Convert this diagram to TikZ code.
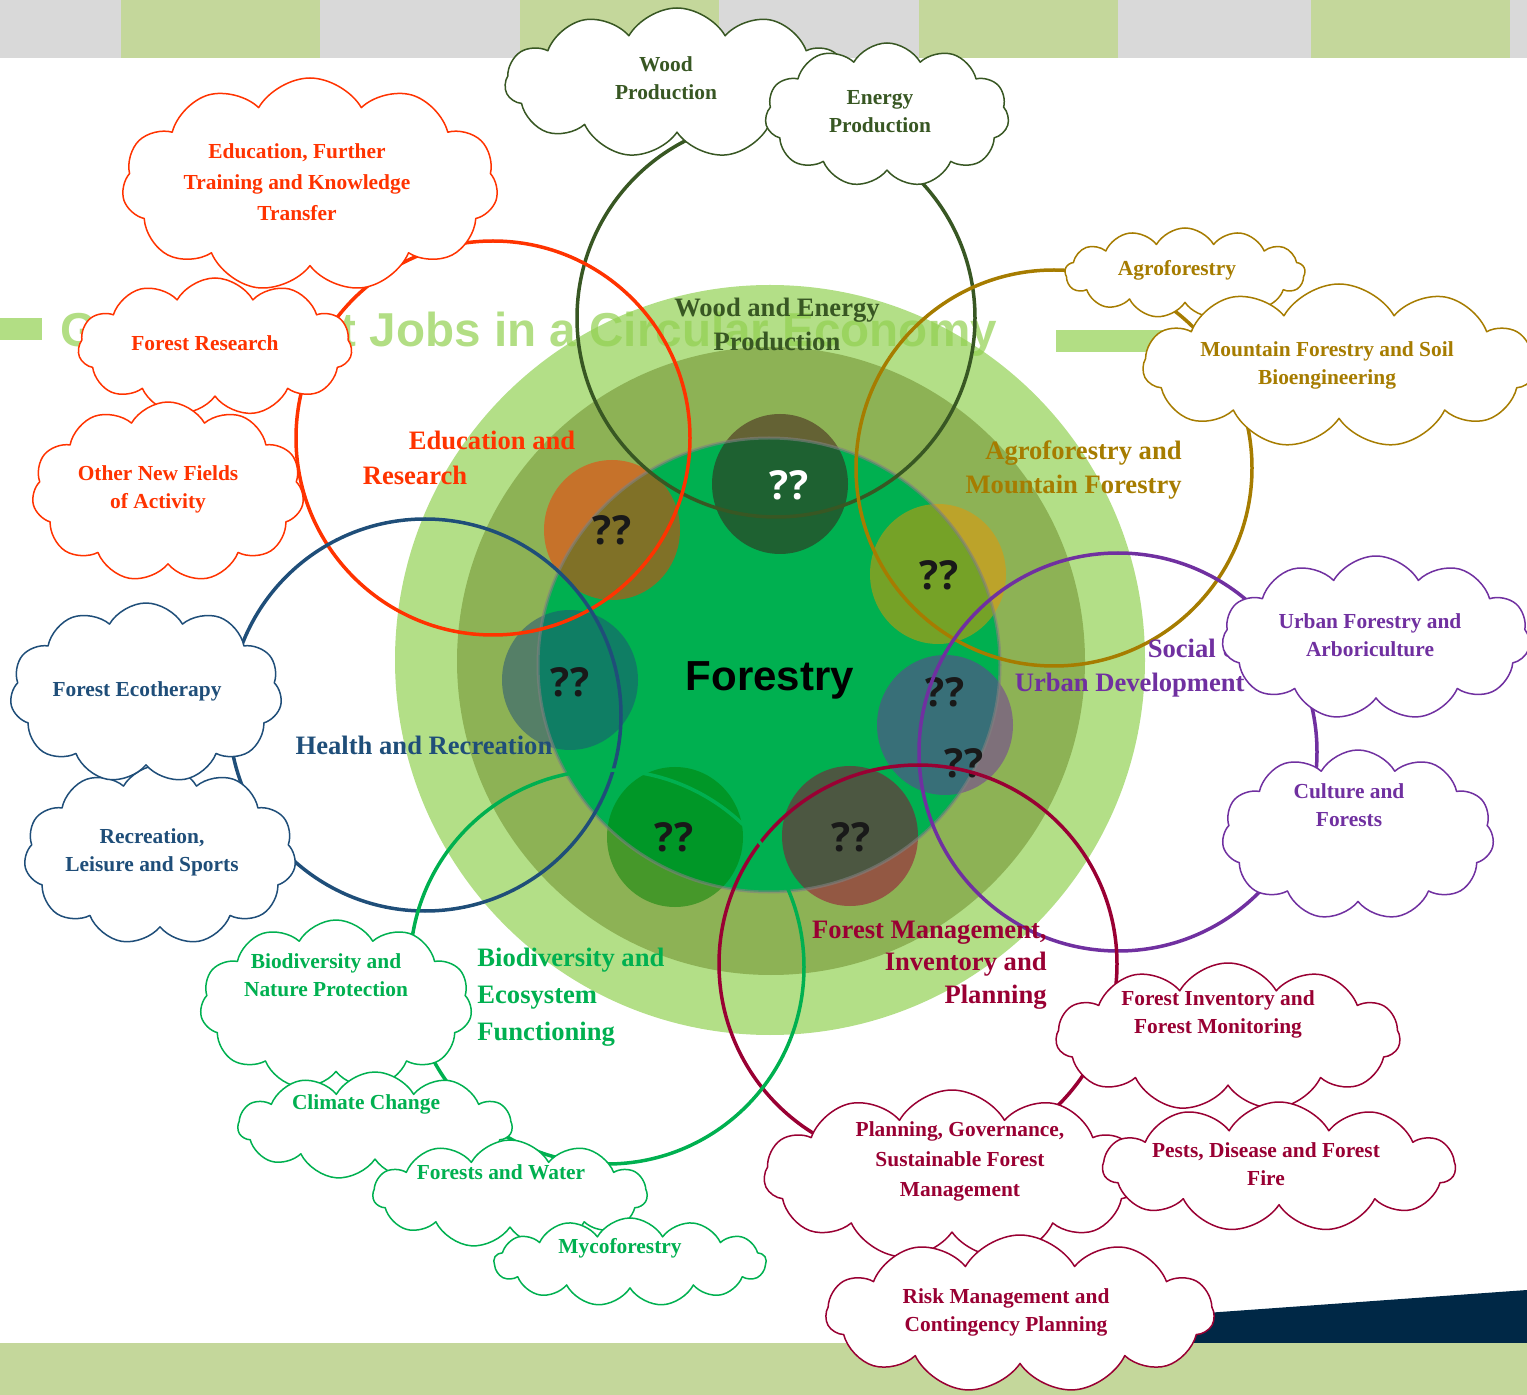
\documentclass[tikz,border=0pt]{standalone}
\usepackage{fontspec}
\setmainfont{Liberation Serif}
\setsansfont{Liberation Sans}
\newfontfamily\qfont{Open Sans}
\usetikzlibrary{shapes.symbols}

\definecolor{woodc}{RGB}{56,87,35}
\definecolor{educ}{RGB}{255,51,0}
\definecolor{agroc}{RGB}{166,124,0}
\definecolor{healthc}{RGB}{31,78,121}
\definecolor{urbanc}{RGB}{112,48,160}
\definecolor{bioc}{RGB}{0,176,80}
\definecolor{mgmtc}{RGB}{153,0,51}
\definecolor{topc}{RGB}{60,20,20}
\definecolor{goldc}{RGB}{235,150,0}
\definecolor{greenc}{RGB}{0,128,0}
\definecolor{lightg}{RGB}{179,223,135}
\definecolor{titleg}{RGB}{146,208,80}
\definecolor{oliveg}{RGB}{141,178,85}
\definecolor{bandg}{RGB}{196,215,155}
\definecolor{bandgrey}{RGB}{217,217,217}
\definecolor{navyc}{RGB}{0,40,70}

\tikzset{
  ring/.style={draw=#1, line width=1.75pt},
  puff/.style={cloud, cloud puffs=11, cloud puff arc=120, cloud ignores aspect,
    draw=#1, fill=white, line width=0.75pt, inner sep=0pt},
  ptxt/.style={text=#1, align=center, inner sep=0pt,
    font=\bfseries\fontsize{10.7}{14}\selectfont},
  lbl/.style={text=#1, inner sep=0pt, font=\bfseries\fontsize{13.3}{17}\selectfont},
  qq/.style={text=#1, inner sep=0pt, font=\qfont\bfseries\fontsize{20}{20}\selectfont},
}

\begin{document}
\begin{tikzpicture}[x=0.5pt, y=-0.5pt, line join=round, line cap=round]
    \useasboundingbox (0,0) rectangle (1527,1395);
    \clip (0,0) rectangle (1527,1395);

    % page bands
    \fill[bandgrey] (0,0) rectangle (1527,58);
    \foreach \xa in {121,520,919,1311}
        \fill[bandg] (\xa,0) rectangle ++(199,58);
    \fill[navyc] (1150,1317) -- (1527,1290) -- (1527,1343) -- (1150,1343) -- cycle;
    \fill[bandg] (0,1343) rectangle (1527,1395);

    % forestry discs
    \fill[lightg] (770,660) circle[radius=375];
    \fill[oliveg] (771,661) circle[radius=314];
    \fill[bioc] (769,665) ellipse[x radius=231, y radius=227];

    % title, half hidden
    \fill[titleg, opacity=0.7] (0,318) rectangle (42,340);
    \fill[titleg, opacity=0.7] (1056,330) rectangle (1200,352);
    \node[anchor=base west, inner sep=0pt, text=titleg, text opacity=0.7,
          font=\sffamily\bfseries\fontsize{23.8}{24}\selectfont]
          (title) at (60,347) {Green Forest Jobs in a Circular Economy};

    \foreach \cx/\cy/\cc in {780/484/topc, 612/530/educ, 938/574/goldc, 570/680/healthc,
                             945/725/urbanc, 675/837/greenc, 850/836/mgmtc}
        \fill[\cc, opacity=0.5] (\cx,\cy) ellipse[x radius=68, y radius=70];
    \draw[gray, opacity=0.6, line width=1.5pt] (769,665) ellipse[x radius=231, y radius=227];

    \node[qq=white] (qwood) at (789,485) {??};
    \node[qq=black!90] (qedu) at (612,530) {??};
    \node[qq=black!90] (qagro) at (939,575) {??};
    \node[qq=black!90] (qhealth) at (570,682) {??};
    \node[qq=black!90] (qurb1) at (945,692) {??};
    \node[qq=black!90] (qurb2) at (964,763) {??};
    \node[qq=black!90] (qbio) at (674,837) {??};
    \node[qq=black!90] (qmgmt) at (851,837) {??};

    % topic rings
    \draw[ring=woodc] (776,318) circle[radius=199];
    \draw[ring=educ] (493,438) circle[radius=197];
    \draw[ring=agroc] (1054,468) circle[radius=198];
    \draw[ring=healthc] (425,715) circle[radius=196];
    \draw[ring=urbanc] (1118,752) circle[radius=199];
    \draw[ring=mgmtc] (918,964) circle[radius=199];
    \draw[ring=bioc] (607,967) circle[radius=197];

    \node[font=\sffamily\bfseries\fontsize{21}{21}\selectfont] (forestry) at (770,680) {Forestry};

    % topic labels
    \node[lbl=woodc, align=center] (woodlbl) at (777,324) {Wood and Energy\\Production};
    \node[lbl=educ] (edulbl1) at (492,440) {Education and};
    \node[lbl=educ] (edulbl2) at (415,475) {Research};
    \node[lbl=agroc, align=right, anchor=east] (agrolbl) at (1182,470) {Agroforestry and\\Mountain Forestry};
    \node[lbl=healthc] (healthlbl) at (424,745) {Health and Recreation};
    \node[lbl=urbanc, align=right, anchor=east] (urblbl) at (1245,668) {Social \&\\Urban Development};
    \node[lbl=bioc, align=left, anchor=west, font=\bfseries\fontsize{13.3}{18.5}\selectfont]
        (biolbl) at (477,997) {Biodiversity and\\Ecosystem\\Functioning};
    \node[lbl=mgmtc, align=right, anchor=east, font=\bfseries\fontsize{13.3}{16.2}\selectfont]
        (mgmtlbl) at (1047,965) {Forest Management,\\Inventory and\\Planning};

    % clouds
    \node[puff=woodc, minimum width=172pt, minimum height=75pt] (woodcl) at (677,83) {};
    \node[ptxt=woodc] (woodtx) at (666,78) {Wood\\Production};
    \node[puff=woodc, minimum width=122pt, minimum height=72pt] (energycl) at (887,115) {};
    \node[ptxt=woodc] (energytx) at (880,112) {Energy\\Production};

    \node[puff=educ, minimum width=188pt, minimum height=107pt] (educl) at (310,185) {};
    \node[ptxt=educ, font=\bfseries\fontsize{10.7}{15.5}\selectfont] (edutx) at (297,182) {Education, Further\\Training and Knowledge\\Transfer};
    \node[puff=educ, minimum width=137pt, minimum height=69pt] (rescl) at (215,347) {};
    \node[ptxt=educ] (restx) at (205,343) {Forest Research};
    \node[puff=educ, minimum width=136pt, minimum height=90pt] (newcl) at (168,492) {};
    \node[ptxt=educ] (newtx) at (158,489) {Other New Fields\\of Activity};

    \node[puff=healthc, minimum width=136pt, minimum height=90pt] (reccl) at (160,855) {};
    \node[ptxt=healthc] (rectx) at (152,852) {Recreation,\\Leisure and Sports};
    \node[puff=healthc, minimum width=136pt, minimum height=90pt] (ecocl) at (146,693) {};
    \node[ptxt=healthc] (ecotx) at (137,691) {Forest Ecotherapy};

    \node[puff=bioc, minimum width=136pt, minimum height=85pt] (natcl) at (336,1005) {};
    \node[ptxt=bioc] (nattx) at (326,975) {Biodiversity and\\Nature Protection};
    \node[puff=bioc, minimum width=137pt, minimum height=54pt] (climcl) at (375,1126) {};
    \node[ptxt=bioc] (climtx) at (366,1104) {Climate Change};
    \node[puff=bioc, minimum width=137pt, minimum height=54pt] (watcl) at (510,1194) {};
    \node[ptxt=bioc] (wattx) at (501,1172) {Forests and Water};
    \node[puff=bioc, cloud puffs=13, minimum width=136pt, minimum height=44pt] (mycocl) at (630,1262) {};
    \node[ptxt=bioc] (mycotx) at (620,1248) {Mycoforestry};

    \node[puff=mgmtc, minimum width=172pt, minimum height=74pt] (invcl) at (1228,1037) {};
    \node[ptxt=mgmtc] (invtx) at (1218,1014) {Forest Inventory and\\Forest Monitoring};
    \node[puff=mgmtc, minimum width=188pt, minimum height=85pt] (plancl) at (952,1175) {};
    \node[ptxt=mgmtc, font=\bfseries\fontsize{10.7}{15}\selectfont] (plantx) at (960,1161) {Planning, Governance,\\Sustainable Forest\\Management};
    \node[puff=mgmtc, minimum width=176pt, minimum height=65pt] (pestcl) at (1279,1167) {};
    \node[ptxt=mgmtc] (pesttx) at (1266,1164) {Pests, Disease and Forest\\Fire};
    \node[puff=mgmtc, minimum width=194pt, minimum height=79pt] (riskcl) at (1020,1314) {};
    \node[ptxt=mgmtc] (risktx) at (1006,1312) {Risk Management and\\Contingency Planning};

    \node[puff=urbanc, minimum width=154pt, minimum height=82pt] (urbcl) at (1376,638) {};
    \node[ptxt=urbanc] (urbtx) at (1370,635) {Urban Forestry and\\Arboriculture};
    \node[puff=urbanc, minimum width=136pt, minimum height=85pt] (cultcl) at (1358,835) {};
    \node[ptxt=urbanc] (culttx) at (1349,805) {Culture and\\Forests};

    \node[puff=agroc, cloud puffs=13, minimum width=120pt, minimum height=45pt] (agrocl) at (1185,273) {};
    \node[ptxt=agroc] (agrotx) at (1177,270) {Agroforestry};
    \node[puff=agroc, minimum width=196pt, minimum height=82pt] (mountcl) at (1339,366) {};
    \node[ptxt=agroc] (mounttx) at (1327,365) {Mountain Forestry and Soil\\Bioengineering};
\end{tikzpicture}
\end{document}
